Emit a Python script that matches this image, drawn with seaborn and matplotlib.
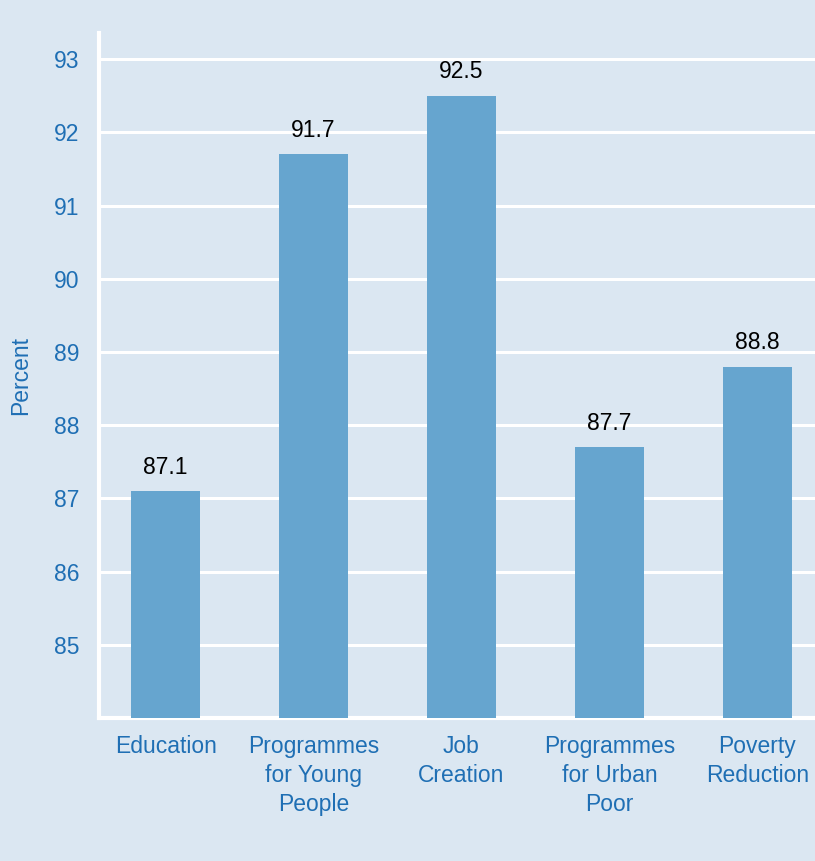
import matplotlib
matplotlib.use("Agg")
import matplotlib.pyplot as plt
import seaborn as sns
import pandas as pd

# Data
categories = [
    "Education",
    "Programmes\nfor Young\nPeople",
    "Job\nCreation",
    "Programmes\nfor Urban\nPoor",
    "Poverty\nReduction",
]
percent = [87.1, 91.7, 92.5, 87.7, 88.8]
y_ticks = [85, 86, 87, 88, 89, 90, 91, 92, 93]

bg = "#dbe7f2"
bar_color = "#66a5cf"
text_blue = "#1f6fb4"

df = pd.DataFrame({"Category": categories, "Percent": percent})

sns.set_style("white")
plt.rcParams["font.family"] = ["Liberation Sans", "DejaVu Sans"]

fig = plt.figure(figsize=(8.15, 8.61), dpi=100, facecolor=bg)
ax = fig.add_axes([0.1215, 0.166, 0.8785, 0.796])
ax.set_facecolor(bg)

sns.barplot(
    data=df,
    x="Category",
    y="Percent",
    color=bar_color,
    width=0.47,
    saturation=1,
    linewidth=0,
    ax=ax,
    zorder=3,
)

ax.set_ylim(84, 93.36)
ax.set_xlim(-0.45, 4.39)
ax.set_yticks(y_ticks)
ax.yaxis.grid(True, color="white", linewidth=2.2, zorder=0)
ax.set_axisbelow(True)

for side in ["top", "right"]:
    ax.spines[side].set_visible(False)
for side in ["left", "bottom"]:
    ax.spines[side].set_color("white")
    ax.spines[side].set_linewidth(3)

ax.tick_params(axis="both", length=0, labelsize=16.5, labelcolor=text_blue)
ax.tick_params(axis="x", pad=12)
ax.tick_params(axis="y", pad=14)
for lbl in ax.get_xticklabels():
    lbl.set_linespacing(1.35)

ax.set_xlabel("")
ax.set_ylabel("Percent", fontsize=16.5, color=text_blue, labelpad=16)

# Value labels
for i, v in enumerate(percent):
    ax.annotate(
        f"{v}",
        (i, v),
        xytext=(0, 9),
        textcoords="offset points",
        ha="center",
        va="bottom",
        fontsize=16.5,
        color="black",
    )

fig.savefig("out.png", dpi=100, facecolor=bg)
